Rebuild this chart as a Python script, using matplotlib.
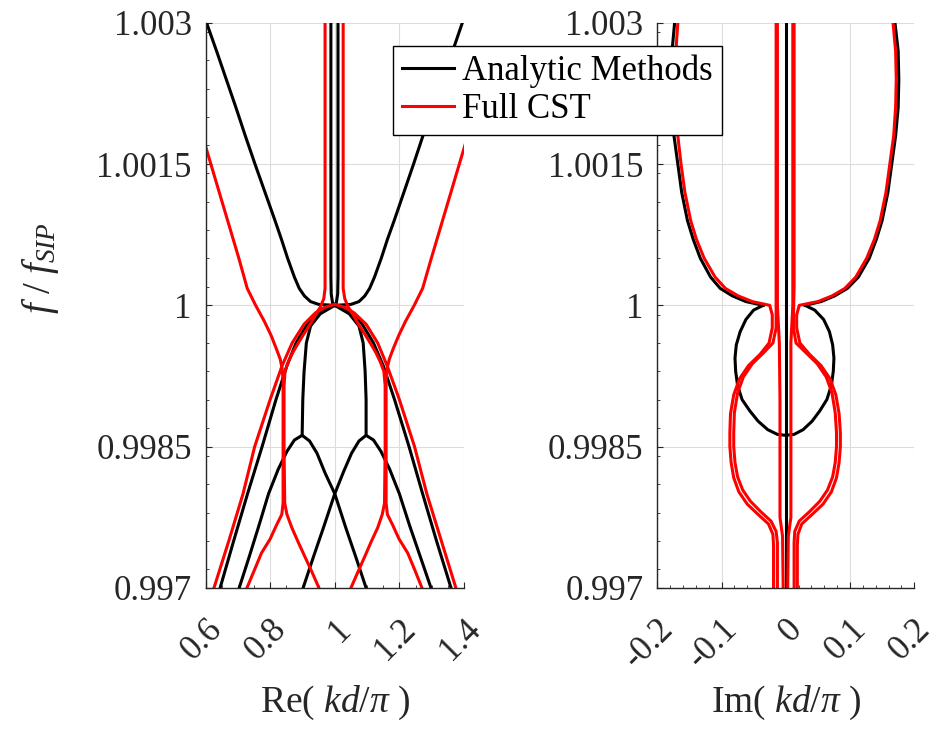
import matplotlib
matplotlib.use('Agg')
import matplotlib.pyplot as plt
import matplotlib.transforms as mtransforms
from matplotlib.ticker import MultipleLocator

plt.rcParams['font.family'] = ['Liberation Serif']
plt.rcParams['mathtext.fontset'] = 'custom'
plt.rcParams['mathtext.rm'] = 'Liberation Serif'
plt.rcParams['mathtext.it'] = 'Liberation Serif:italic'

# ---------- axis ticks
f_ticks = [0.997, 0.9985, 1.0, 1.0015, 1.003]
f_labels = ['0.997', '0.9985', '1', '1.0015', '1.003']
re_ticks = [0.6, 0.8, 1.0, 1.2, 1.4]
re_labels = ['0.6', '0.8', '1', '1.2', '1.4']
im_ticks = [-0.2, -0.1, 0.0, 0.1, 0.2]
im_labels = ['-0.2', '-0.1', '0', '0.1', '0.2']

# ---------- Re(kd/pi), analytic (black)
re_bu_f = [1.003, 1.0027, 1.0024, 1.0021, 1.0018, 1.0015, 1.0012, 1.0009, 1.0007, 1.0005,
           1.0003, 1.00018, 1.0001, 1.00004, 1.00001, 1.0]
re_bu_l_x = [0.603, 0.634, 0.664, 0.694, 0.723, 0.753, 0.784, 0.815, 0.835, 0.854,
             0.875, 0.890, 0.906, 0.925, 0.950, 1.0]
re_bu_r_x = [1.395, 1.365, 1.334, 1.303, 1.273, 1.244, 1.214, 1.184, 1.163, 1.144,
             1.123, 1.108, 1.093, 1.075, 1.050, 1.0]
re_bv_f = [1.003, 1.0003, 1.00012, 1.00003, 1.0]
re_bv1_x = [0.988, 0.988, 0.989, 0.993, 1.0]
re_bv2_x = [1.010, 1.010, 1.009, 1.005, 1.0]
re_cap_f = [0.997, 0.9975, 0.998, 0.9985, 0.999, 0.99936, 0.9996, 0.9998, 0.99992, 0.99998, 1.0,
            0.99998, 0.99992, 0.9998, 0.9996, 0.99936, 0.999, 0.9985, 0.998, 0.9975, 0.997]
re_bcap_x = [0.645, 0.687, 0.730, 0.775, 0.818, 0.852, 0.880, 0.915, 0.945, 0.972, 1.0,
             1.028, 1.055, 1.085, 1.120, 1.150, 1.185, 1.230, 1.272, 1.315, 1.360]
re_bstem_f = [1.0, 0.99991, 0.99978, 0.99960, 0.99930, 0.99900, 0.99862]
re_bstem_l_x = [1.0, 0.955, 0.925, 0.912, 0.905, 0.901, 0.899]
re_bstem_r_x = [1.0, 1.045, 1.075, 1.088, 1.094, 1.097, 1.097]
re_bsmall_l_f = [0.997, 0.99733, 0.99766, 0.99800, 0.99826, 0.99845, 0.99857, 0.99862, 0.99856,
                 0.99843, 0.99822, 0.99800, 0.99763, 0.99733, 0.997]
re_bsmall_l_x = [0.704, 0.735, 0.765, 0.795, 0.825, 0.852, 0.875, 0.899, 0.922,
                 0.945, 0.970, 1.0, 1.035, 1.065, 1.097]
re_bsmall_r_f = [0.997, 0.99733, 0.99764, 0.99800, 0.99824, 0.99843, 0.99856, 0.99862, 0.99857,
                 0.99845, 0.99826, 0.99800, 0.99766, 0.99733, 0.997]
re_bsmall_r_x = [0.902, 0.934, 0.965, 1.0, 1.028, 1.052, 1.075, 1.097, 1.120,
                 1.143, 1.170, 1.200, 1.232, 1.265, 1.298]

# ---------- Re(kd/pi), full CST (red)
re_rcap_f = [0.997, 0.9975, 0.998, 0.9985, 0.999, 0.99936, 0.9996, 0.9998, 0.99992, 0.99998, 1.00001,
             0.99998, 0.99992, 0.9998, 0.9996, 0.99936, 0.999, 0.9985, 0.998, 0.9975, 0.997]
re_rcap_x = [0.626, 0.672, 0.716, 0.752, 0.800, 0.837, 0.868, 0.905, 0.940, 0.970, 1.0,
             1.030, 1.060, 1.097, 1.133, 1.162, 1.200, 1.247, 1.285, 1.330, 1.375]
re_r1_f = [1.0017, 1.0014, 1.0011, 1.0008, 1.0005, 1.00018, 1.0, 0.99983, 0.99968, 0.99954, 0.99943,
           0.99933, 0.99920, 0.99848, 0.99790, 0.99778, 0.99767, 0.99752, 0.99737, 0.99718, 0.997]
re_r1_l_x = [0.599, 0.625, 0.651, 0.677, 0.703, 0.729, 0.755, 0.782, 0.803, 0.819, 0.831,
             0.837, 0.840, 0.840, 0.840, 0.836, 0.820, 0.800, 0.773, 0.750, 0.728]
re_r1_r_x = [1.403, 1.377, 1.351, 1.325, 1.299, 1.272, 1.246, 1.219, 1.198, 1.181, 1.169,
             1.162, 1.159, 1.159, 1.159, 1.163, 1.179, 1.199, 1.226, 1.249, 1.270]
re_r2_f = [1.003, 1.0005, 1.00018, 1.00007, 0.99998, 0.99990, 0.99980, 0.99970, 0.99960, 0.99950,
           0.99940, 0.99930, 0.99915, 0.99848, 0.99790, 0.99778, 0.99764, 0.99750, 0.99735, 0.99718, 0.997]
re_r2_l_x = [0.970, 0.970, 0.970, 0.966, 0.955, 0.940, 0.924, 0.905, 0.887, 0.870,
             0.856, 0.846, 0.843, 0.843, 0.845, 0.852, 0.867, 0.885, 0.905, 0.928, 0.951]
re_r2_r_x = [1.026, 1.026, 1.026, 1.031, 1.042, 1.057, 1.073, 1.092, 1.110, 1.127,
             1.141, 1.152, 1.156, 1.156, 1.154, 1.147, 1.133, 1.114, 1.095, 1.073, 1.050]

# ---------- Im(kd/pi), analytic (black)
im_u_f = [1.003, 1.0027, 1.0024, 1.0021, 1.0018, 1.0015, 1.0012, 1.0009, 1.0007, 1.0005,
          1.0003, 1.00018, 1.0001, 1.00004, 1.0]
im_bu_l_x = [-0.173, -0.177, -0.178, -0.177, -0.174, -0.168, -0.162, -0.153, -0.144, -0.133,
             -0.117, -0.102, -0.083, -0.062, -0.035]
im_bu_r_x = [0.170, 0.175, 0.176, 0.175, 0.171, 0.165, 0.159, 0.150, 0.141, 0.130,
             0.113, 0.096, 0.076, 0.055, 0.030]
im_bloop_x = [-0.035, -0.050, -0.062, -0.071, -0.077, -0.079, -0.078, -0.075, -0.068, -0.056,
              -0.043, -0.028, -0.013, 0.0, 0.013, 0.027, 0.041, 0.053, 0.064, 0.071,
              0.074, 0.075, 0.073, 0.068, 0.059, 0.045, 0.030]
im_bloop_f = [1.0, 0.99995, 0.99985, 0.99972, 0.99958, 0.99944, 0.99930, 0.99915, 0.99900, 0.99888,
              0.99877, 0.99868, 0.99863, 0.99862, 0.99863, 0.99868, 0.99877, 0.99888, 0.99900, 0.99915,
              0.99930, 0.99944, 0.99958, 0.99972, 0.99985, 0.99995, 1.0]
im_bc_x = [0.0, 0.0]
im_bc_f = [0.997, 1.003]

# ---------- Im(kd/pi), full CST (red)
im_ro_f = [1.003, 1.0027, 1.0024, 1.0021, 1.0018, 1.0015, 1.0012, 1.0009, 1.0007, 1.0005,
           1.0003, 1.00018, 1.0001, 1.00004, 1.0,
           0.99990, 0.99976, 0.99960, 0.99948, 0.99936, 0.99922, 0.99905, 0.99885, 0.99865, 0.99850,
           0.99833, 0.99817, 0.99802, 0.99789, 0.99778, 0.99768, 0.99757, 0.99745, 0.997]
im_ro_l_x = [-0.168, -0.171, -0.172, -0.171, -0.168, -0.163, -0.157, -0.148, -0.139, -0.127,
             -0.110, -0.094, -0.074, -0.052, -0.025,
             -0.021, -0.021, -0.026, -0.040, -0.058, -0.072, -0.081, -0.086, -0.087, -0.087,
             -0.085, -0.081, -0.073, -0.060, -0.043, -0.027, -0.020, -0.019, -0.019]
im_ro_r_x = [0.167, 0.171, 0.172, 0.171, 0.168, 0.162, 0.156, 0.147, 0.138, 0.126,
             0.109, 0.092, 0.072, 0.050, 0.021,
             0.017, 0.017, 0.022, 0.037, 0.055, 0.069, 0.078, 0.083, 0.085, 0.085,
             0.083, 0.079, 0.071, 0.058, 0.041, 0.025, 0.019, 0.018, 0.018]
im_ri_f = [1.003, 1.0002, 0.99990, 0.99976, 0.99960, 0.99950, 0.99938, 0.99924, 0.99907, 0.99886,
           0.99865, 0.99850, 0.99833, 0.99818, 0.99804, 0.99792, 0.99781, 0.99771, 0.99760, 0.99748, 0.997]
im_ri_l_x = [-0.015, -0.015, -0.015, -0.015, -0.020, -0.034, -0.052, -0.066, -0.075, -0.080,
             -0.081, -0.081, -0.079, -0.075, -0.067, -0.055, -0.039, -0.023, -0.015, -0.013, -0.013]
im_ri_r_x = [0.013, 0.013, 0.012, 0.012, 0.016, 0.031, 0.049, 0.063, 0.072, 0.077,
             0.079, 0.079, 0.077, 0.073, 0.065, 0.053, 0.037, 0.021, 0.014, 0.013, 0.013]
im_rc_f = [1.003, 1.0, 0.9996, 0.9990, 0.99775, 0.99755, 0.997]
im_rc_l_x = [-0.013, -0.013, -0.010, -0.009, -0.009, -0.005, -0.004]
im_rc_r_x = [0.011, 0.011, 0.008, 0.008, 0.008, 0.004, 0.003]

lw = 2.2
axc = '#262626'

fig = plt.figure(figsize=(9.43, 7.34), dpi=100)
ax1 = fig.add_axes([0.218, 0.199, 0.274, 0.770])
ax2 = fig.add_axes([0.697, 0.199, 0.2725, 0.770])

# left panel
for xs, fs in [(re_bu_l_x, re_bu_f), (re_bu_r_x, re_bu_f), (re_bv1_x, re_bv_f), (re_bv2_x, re_bv_f),
               (re_bcap_x, re_cap_f), (re_bstem_l_x, re_bstem_f), (re_bstem_r_x, re_bstem_f),
               (re_bsmall_l_x, re_bsmall_l_f), (re_bsmall_r_x, re_bsmall_r_f)]:
    l_black, = ax1.plot(xs, fs, color='k', lw=lw, solid_joinstyle='round')
for xs, fs in [(re_rcap_x, re_rcap_f), (re_r1_l_x, re_r1_f), (re_r1_r_x, re_r1_f),
               (re_r2_l_x, re_r2_f), (re_r2_r_x, re_r2_f)]:
    l_red, = ax1.plot(xs, fs, color='r', lw=lw, solid_joinstyle='round')

# right panel
for xs, fs in [(im_bc_x, im_bc_f), (im_bu_l_x, im_u_f), (im_bu_r_x, im_u_f), (im_bloop_x, im_bloop_f)]:
    ax2.plot(xs, fs, color='k', lw=lw, solid_joinstyle='round')
for xs, fs in [(im_ro_l_x, im_ro_f), (im_ro_r_x, im_ro_f), (im_ri_l_x, im_ri_f), (im_ri_r_x, im_ri_f),
               (im_rc_l_x, im_rc_f), (im_rc_r_x, im_rc_f)]:
    ax2.plot(xs, fs, color='r', lw=lw, solid_joinstyle='round')

shift = mtransforms.ScaledTranslation(0.23, 0, fig.dpi_scale_trans)
for ax, xt, xl, xmin, xmax, xminor, name in [(ax1, re_ticks, re_labels, 0.6, 1.4, 0.05, 'Re'),
                                               (ax2, im_ticks, im_labels, -0.2, 0.2, 0.02, 'Im')]:
    ax.set_xlim(xmin, xmax)
    ax.set_ylim(0.997, 1.003)
    ax.set_xticks(xt)
    ax.set_xticklabels(xl, rotation=45, ha='right')
    ax.set_yticks(f_ticks)
    ax.set_yticklabels(f_labels)
    ax.xaxis.set_minor_locator(MultipleLocator(xminor))
    ax.yaxis.set_minor_locator(MultipleLocator(0.0003))
    ax.tick_params(which='both', direction='in', colors=axc, labelsize=25)
    ax.tick_params(axis='x', which='major', pad=18, length=4)
    ax.tick_params(axis='y', which='major', pad=10, length=4)
    ax.tick_params(which='minor', length=2.5)
    for lab in ax.get_xticklabels():
        lab.set_transform(lab.get_transform() + shift)
    for s in ['top', 'right']:
        ax.spines[s].set_visible(False)
    for s in ['left', 'bottom']:
        ax.spines[s].set_color(axc)
        ax.spines[s].set_linewidth(1.0)
    ax.grid(True, which='major', color='#dcdcdc', lw=0.8)
    ax.set_axisbelow(True)
    ax.set_xlabel(name + r'( $kd/\pi$ )', fontsize=27, color=axc)
    ax.xaxis.set_label_coords(0.5, -0.17)

fig.text(0.043, 1 - 268 / 734, r'$f\ /\ f_{SIP}$', rotation=90, ha='center', va='center',
         fontsize=28, color=axc)

leg = fig.legend([l_black, l_red], ['Analytic Methods', 'Full CST'], loc='upper left',
                 bbox_to_anchor=(393 / 943, 1 - 46 / 734), fontsize=25, frameon=True, fancybox=False,
                 edgecolor='k', framealpha=1, handlelength=1.5, handletextpad=0.25, borderpad=0.25,
                 labelspacing=0.15, borderaxespad=0)
leg.get_frame().set_linewidth(1.0)
leg.set_zorder(10)

fig.savefig('out.png', dpi=100)
